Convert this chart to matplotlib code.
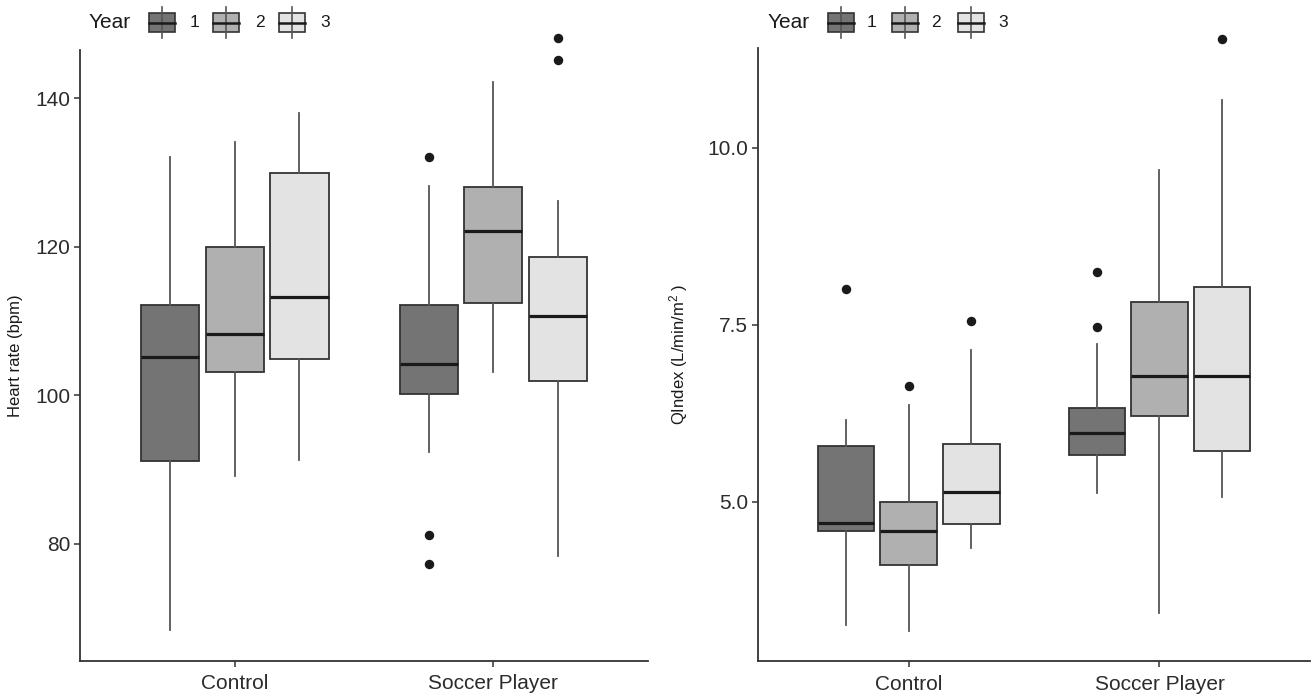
import matplotlib
matplotlib.use("Agg")
import matplotlib.pyplot as plt
from matplotlib.patches import Rectangle
from matplotlib.lines import Line2D

plt.rcParams['font.family'] = ['Liberation Sans', 'DejaVu Sans']
plt.rcParams['mathtext.fontset'] = 'custom'
plt.rcParams['mathtext.rm'] = 'Liberation Sans'
plt.rcParams['mathtext.it'] = 'Liberation Sans'

# ---------------- data ----------------
groups = ["Control", "Soccer Player"]
years = ["1", "2", "3"]
fills = ["#747474", "#b0b0b0", "#e3e3e3"]

# Heart rate (bpm): [Control y1, y2, y3, Soccer y1, y2, y3]
hr_whislo = [68.4, 89.2, 91.3, 92.4, 103.2, 78.4]
hr_q1     = [91.2, 103.1, 104.9, 100.2, 112.5, 101.9]
hr_med    = [105.1, 108.3, 113.3, 104.2, 122.1, 110.7]
hr_q3     = [112.2, 120.0, 129.9, 112.1, 128.1, 118.6]
hr_whishi = [132.1, 134.1, 138.0, 128.2, 142.2, 126.2]
hr_fliers = [[], [], [], [132.1, 81.2, 77.3], [], [148.1, 145.2]]

# QIndex (L/min/m2)
qi_whislo = [3.26, 3.18, 4.34, 5.13, 3.43, 5.06]
qi_q1     = [4.59, 4.10, 4.68, 5.66, 6.21, 5.71]
qi_med    = [4.70, 4.58, 5.14, 5.97, 6.78, 6.78]
qi_q3     = [5.79, 5.00, 5.81, 6.33, 7.82, 8.03]
qi_whishi = [6.15, 6.37, 7.15, 7.23, 9.69, 10.68]
qi_fliers = [[8.01], [6.64], [7.56], [8.25, 7.47], [], [11.54]]

W, H = 1312, 697
fig = plt.figure(figsize=(W / 100, H / 100), dpi=100)


def px_rect(x0, x1, ytop, ybot):
    return [x0 / W, 1 - ybot / H, (x1 - x0) / W, (ybot - ytop) / H]


def draw_panel(ax, whislo, q1, med, q3, whishi, fliers, ylim, yticks, yticklabels, ylabel, label_x):
    offsets = [-0.25, 0.0, 0.25]
    for k in range(6):
        g, y = divmod(k, 3)
        st = dict(whislo=whislo[k], q1=q1[k], med=med[k], q3=q3[k],
                  whishi=whishi[k], fliers=fliers[k])
        b = ax.bxp([st], positions=[g + 1 + offsets[y]], widths=0.225,
                   patch_artist=True, showcaps=False,
                   boxprops=dict(facecolor=fills[y], edgecolor="#333333", linewidth=1.3),
                   whiskerprops=dict(color="#555555", linewidth=1.3),
                   medianprops=dict(color="#1a1a1a", linewidth=2.3),
                   flierprops=dict(marker="o", markerfacecolor="#1a1a1a",
                                   markeredgecolor="#1a1a1a", markersize=5.8))
        for f in b["fliers"]:
            f.set_clip_on(False)
    ax.set_xlim(0.4, 2.6)
    ax.set_ylim(*ylim)
    ax.set_xticks([1, 2])
    ax.set_xticklabels(groups)
    ax.set_yticks(yticks)
    ax.set_yticklabels(yticklabels)
    for s in ["top", "right"]:
        ax.spines[s].set_visible(False)
    for s in ["left", "bottom"]:
        ax.spines[s].set_color("#333333")
        ax.spines[s].set_linewidth(1.3)
    ax.tick_params(axis="both", colors="#333333", length=4, width=1.1,
                   labelsize=15, labelcolor="#2b2b2b")
    ax.tick_params(axis="x", pad=6)
    ax.tick_params(axis="y", pad=3)
    ax.set_ylabel(ylabel, fontsize=12, color="#1a1a1a")
    ax.yaxis.set_label_coords(label_x, 0.5)


ax1 = fig.add_axes(px_rect(80, 648, 50, 660.5))
draw_panel(ax1, hr_whislo, hr_q1, hr_med, hr_q3, hr_whishi, hr_fliers,
           (64.3, 146.5), [80, 100, 120, 140], ["80", "100", "120", "140"],
           "Heart rate (bpm)", -0.100)

ax2 = fig.add_axes(px_rect(758, 1310, 48, 661))
draw_panel(ax2, qi_whislo, qi_q1, qi_med, qi_q3, qi_whishi, qi_fliers,
           (2.75, 11.41), [5.0, 7.5, 10.0], ["5.0", "7.5", "10.0"],
           r"QIndex (L/min/m$^{2}$ )", -0.123)


# ---------------- legends ----------------
def legend(x_title, key_x, label_x):
    yc = 22.5
    fig.text(x_title / W, 1 - yc / H, "Year", fontsize=15, color="#1a1a1a",
             ha="left", va="center")
    for i in range(3):
        x0 = key_x[i]
        kw = 26
        fig.add_artist(Line2D([(x0 + kw / 2) / W] * 2, [1 - 7 / H, 1 - 38 / H],
                              color="#555555", linewidth=1.2))
        fig.add_artist(Rectangle((x0 / W, 1 - 32 / H), kw / W, 19 / H,
                                 facecolor=fills[i], edgecolor="#333333",
                                 linewidth=1.2, transform=fig.transFigure))
        fig.add_artist(Line2D([x0 / W, (x0 + kw) / W], [1 - yc / H] * 2,
                              color="#1a1a1a", linewidth=1.8))
        fig.text(label_x[i] / W, 1 - yc / H, years[i], fontsize=12.5,
                 color="#1a1a1a", ha="left", va="center")


legend(89, [149, 213, 279], [190, 255, 320])
legend(768, [828, 892, 958], [867, 931, 998])

fig.savefig("out.png", dpi=100, facecolor="white")
